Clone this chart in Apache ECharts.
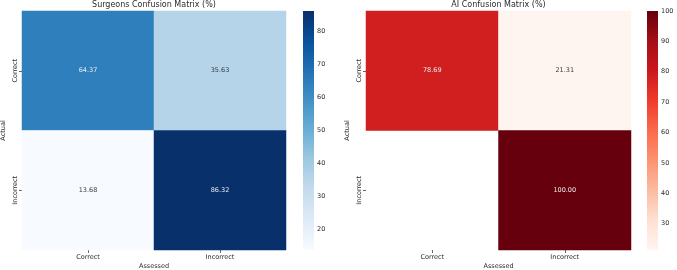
<!DOCTYPE html>
<html>
<head>
<meta charset="utf-8">
<script src="https://cdn.jsdelivr.net/npm/echarts@6/dist/echarts.min.js"></script>
<style>
  html, body { margin: 0; padding: 0; background: #fff; }
  #chart { width: 677px; height: 270px; }
</style>
</head>
<body>
<div id="chart"></div>
<script>
// categories of both matrices (rows = Actual, columns = Assessed)
var categories = ['Correct', 'Incorrect'];
// surgeons, percent per row
var surgeonsValues = [
    [64.37, 35.63],
    [13.68, 86.32]
];
// AI, percent per row (null = empty cell)
var aiValues = [
    [78.69, 21.31],
    [null, 100.00]
];
var surgeonsTicks = [20, 30, 40, 50, 60, 70, 80];
var aiTicks = [30, 40, 50, 60, 70, 80, 90, 100];

var bluesMap = ['#f7fbff', '#deebf7', '#c6dbef', '#9ecae1', '#6baed6', '#4292c6', '#2171b5', '#08519c', '#08306b'];
var redsMap = ['#fff5f0', '#fee0d2', '#fcbba1', '#fc9272', '#fb6a4a', '#ef3b2c', '#cb181d', '#a50f15', '#67000d'];

var font = 'DejaVu Sans';
var textColor = '#2b2b2b';

function range(values) {
    var all = [];
    values.forEach(function (row) {
        row.forEach(function (v) { if (v !== null) all.push(v); });
    });
    return [Math.min.apply(null, all), Math.max.apply(null, all)];
}

// 矩阵转成 heatmap 数据
function toData(values) {
    var r = range(values);
    var data = [];
    for (var i = 0; i < values.length; i++) {
        for (var j = 0; j < values[i].length; j++) {
            var v = values[i][j];
            if (v === null) {
                data.push([j, i, '-']);
                continue;
            }
            var t = (v - r[0]) / (r[1] - r[0]);
            data.push({
                value: [j, i, v],
                label: { color: t > 0.5 ? '#ececec' : '#383838' }
            });
        }
    }
    return data;
}

function gradient(colors) {
    var stops = colors.map(function (c, i) {
        return { offset: i / (colors.length - 1), color: c };
    });
    // 从下到上
    return new echarts.graphic.LinearGradient(0, 1, 0, 0, stops);
}

var sRange = range(surgeonsValues);
var aRange = range(aiValues);

var panels = [
    { left: 22, width: 264, barLeft: 303, range: sRange, ticks: surgeonsTicks, values: surgeonsValues, colors: bluesMap, title: 'Surgeons Confusion Matrix (%)' },
    { left: 366, width: 265, barLeft: 647, range: aRange, ticks: aiTicks, values: aiValues, colors: redsMap, title: 'AI Confusion Matrix (%)' }
];

var gridTop = 11, gridHeight = 239, barWidth = 11;
var tickFont = 6.5;

var option = {
    backgroundColor: '#fff',
    animation: false,
    title: [],
    grid: [],
    xAxis: [],
    yAxis: [],
    visualMap: [],
    series: []
};

panels.forEach(function (p, k) {
    option.title.push({
        text: p.title,
        left: p.left + p.width / 2,
        top: 1,
        padding: 0,
        textAlign: 'center',
        textStyle: { fontFamily: font, fontSize: 8, fontWeight: 'normal', color: textColor }
    });
    // heatmap grid
    option.grid.push({ left: p.left, top: gridTop, width: p.width, height: gridHeight, outerBoundsMode: 'none', containLabel: false });
    // colorbar grid
    option.grid.push({ left: p.barLeft, top: gridTop, width: barWidth, height: gridHeight, outerBoundsMode: 'none', containLabel: false });

    option.xAxis.push({
        type: 'category',
        gridIndex: k * 2,
        data: categories,
        name: 'Assessed',
        nameLocation: 'middle',
        nameGap: 13,
        nameMoveOverlap: false,
        nameTextStyle: { fontFamily: font, fontSize: tickFont, color: textColor },
        axisLine: { show: false },
        axisTick: { show: true, alignWithLabel: true, length: 3, lineStyle: { color: '#666' } },
        axisLabel: { fontFamily: font, fontSize: tickFont, color: textColor, margin: 4 },
        splitArea: { show: false }
    });
    option.xAxis.push({
        type: 'value',
        gridIndex: k * 2 + 1,
        min: 0,
        max: 1,
        show: false
    });

    option.yAxis.push({
        type: 'category',
        gridIndex: k * 2,
        data: categories,
        inverse: true,
        name: 'Actual',
        nameLocation: 'middle',
        nameGap: 15,
        nameMoveOverlap: false,
        nameTextStyle: { fontFamily: font, fontSize: tickFont, color: textColor },
        axisLine: { show: false },
        axisTick: { show: true, alignWithLabel: true, length: 3, lineStyle: { color: '#666' } },
        axisLabel: { fontFamily: font, fontSize: tickFont, color: textColor, rotate: 90, margin: 3 }
    });
    option.yAxis.push({
        type: 'value',
        gridIndex: k * 2 + 1,
        position: 'right',
        min: p.range[0],
        max: p.range[1],
        axisLine: { show: false },
        splitLine: { show: false },
        axisTick: { show: true, length: 3, lineStyle: { color: '#666' }, customValues: p.ticks },
        axisLabel: { fontFamily: font, fontSize: tickFont, color: textColor, margin: 3, customValues: p.ticks }
    });

    option.visualMap.push({
        type: 'continuous',
        seriesIndex: k * 2,
        min: p.range[0],
        max: p.range[1],
        show: false,
        inRange: { color: p.colors }
    });

    option.series.push({
        type: 'heatmap',
        xAxisIndex: k * 2,
        yAxisIndex: k * 2,
        data: toData(p.values),
        label: {
            show: true,
            fontFamily: font,
            fontSize: tickFont,
            formatter: function (params) {
                return params.value[2].toFixed(2);
            }
        },
        emphasis: { disabled: true }
    });

    // colorbar
    option.series.push({
        type: 'custom',
        xAxisIndex: k * 2 + 1,
        yAxisIndex: k * 2 + 1,
        silent: true,
        data: [[0, p.range[0], p.range[1]]],
        renderItem: function (params, api) {
            var lo = api.coord([0, api.value(1)]);
            var hi = api.coord([1, api.value(2)]);
            return {
                type: 'rect',
                shape: { x: lo[0], y: hi[1], width: hi[0] - lo[0], height: lo[1] - hi[1] },
                style: { fill: gradient(p.colors) }
            };
        }
    });
});

var myChart = echarts.init(document.getElementById('chart'));
myChart.setOption(option);
window.addEventListener('resize', function () {
    myChart.resize();
});
</script>
</body>
</html>
